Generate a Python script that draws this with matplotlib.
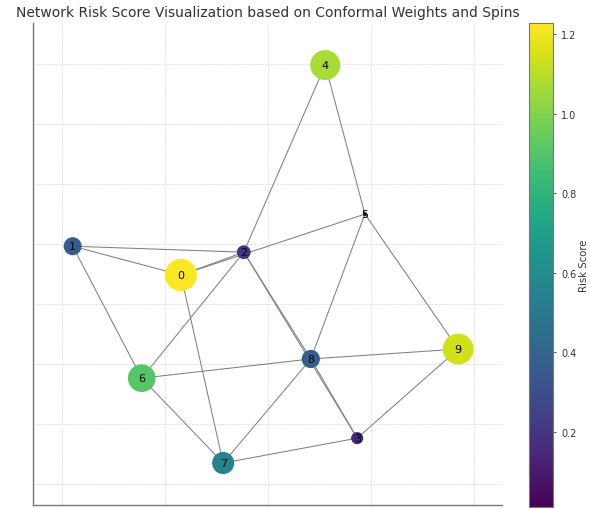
import numpy as np
from matplotlib import pyplot as plt

nodes = [0, 1, 2, 3, 4, 5, 6, 7, 8, 9]
pos_x = [-0.169, -0.379, -0.047, 0.173, 0.111, 0.188, -0.245, -0.087, 0.083, 0.369]
pos_y = [0.097, 0.193, 0.173, -0.447, 0.797, 0.300, -0.247, -0.530, -0.183, -0.150]
risk = [1.228, 0.36, 0.2, 0.15, 1.07, 0.01, 0.9, 0.56, 0.37, 1.14]
edges = [
    (0, 1), (0, 2), (0, 5), (0, 7), (1, 2), (1, 6), (2, 4), (2, 6), (2, 8),
    (2, 3), (8, 3), (4, 5), (5, 8), (5, 9), (6, 8), (8, 9), (6, 7), (7, 8),
    (7, 3), (3, 9),
]

title = "Network Risk Score Visualization based on Conformal Weights and Spins"


def main():
    fig = plt.figure(figsize=(5.9, 5.1), dpi=100)
    ax = fig.add_axes([0.0559, 0.0078, 0.795, 0.945])
    cax = fig.add_axes([0.8966, 0.0039, 0.0407, 0.949])

    # edges first, nodes on top
    for u, v in edges:
        ax.plot(
            [pos_x[u], pos_x[v]],
            [pos_y[u], pos_y[v]],
            color="gray",
            linewidth=0.75,
            zorder=1,
        )

    sizes = np.array(risk) * 397
    sc = ax.scatter(pos_x, pos_y, s=sizes, c=risk, cmap="viridis", zorder=2)

    for n in nodes:
        ax.text(pos_x[n], pos_y[n], str(n), fontsize=8, ha="center", va="center", zorder=3)

    ax.set_xlim(-0.456, 0.454)
    ax.set_ylim(-0.67, 0.937)
    ax.set_xticks([-0.4, -0.2, 0.0, 0.2, 0.4])
    ax.set_yticks([-0.6, -0.4, -0.2, 0.0, 0.2, 0.4, 0.6, 0.8])
    ax.tick_params(length=0, labelleft=False, labelbottom=False)
    ax.grid(True, linestyle="--", linewidth=0.5, color="#d9d9d9")
    ax.set_axisbelow(True)
    for side in ["top", "right"]:
        ax.spines[side].set_visible(False)
    for side in ["left", "bottom"]:
        ax.spines[side].set_color("#777777")
        ax.spines[side].set_linewidth(1.0)
    ax.set_title(title, fontsize=10, color="#333333", pad=5)

    cb = fig.colorbar(sc, cax=cax)
    cb.set_ticks([0.2, 0.4, 0.6, 0.8, 1.0, 1.2])
    cb.ax.tick_params(labelsize=7, length=2.5, width=0.6, colors="#333333")
    cb.outline.set_edgecolor("#777777")
    cb.outline.set_linewidth(0.8)
    cb.set_label("Risk Score", fontsize=7.3, color="#333333", labelpad=2)

    plt.savefig("out.png", dpi=100)


if __name__ == "__main__":
    main()
